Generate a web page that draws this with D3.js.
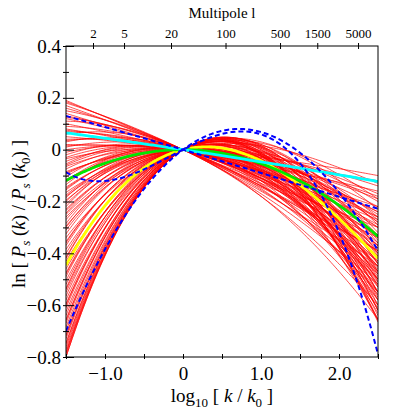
<!DOCTYPE html>
<html>
<head>
<meta charset="utf-8">
<script src="https://cdn.jsdelivr.net/npm/d3@7"></script>
<style>
body{margin:0;background:#fff;}
svg text{font-family:"Liberation Serif",Tinos,"DejaVu Serif","Times New Roman",Times,serif;fill:#000;}
</style>
</head>
<body>
<div id="chart"></div>
<script>
// each curve is kept as its value of ln[Ps(k)/Ps(k0)] at log10(k/k0) = -1.5, 1.0 and 2.5
// (every curve goes through 0 at the pivot k0)
var redLeft=[0.19,0.18,0.17,0.16,0.15,0.14,0.13,0.12,0.11,0.10,0.09,0.08,0.07,0.06,0.05,0.04,0.03,0.02,0.01,0.00,
    -0.01,-0.02,-0.035,-0.045,-0.055,-0.065,-0.075,-0.085,-0.095,-0.105,-0.115,-0.125,-0.135,-0.145,-0.155,-0.165,-0.175,-0.185,-0.195,-0.21,-0.22,-0.235,-0.245,-0.26,-0.27,-0.285,-0.295,-0.31,
    -0.325,-0.34,-0.355,-0.37,-0.385,-0.40,-0.415,-0.43,-0.445,-0.46,-0.475,-0.49,-0.505,-0.52,-0.535,-0.55,-0.565,-0.58,-0.595,-0.61,-0.625,-0.64,-0.655,-0.67,-0.685,-0.70,-0.715,-0.73,-0.745,-0.76,-0.77,-0.78,-0.79,-0.80,-0.80,
    -0.03,-0.06,-0.09,-0.12,-0.15,-0.18,-0.20,-0.23,-0.25,-0.30,
    -0.36,-0.42,-0.48,-0.54,-0.60,-0.66,-0.72,-0.75,-0.785,
    0.185,0.125,0.075,0.035,0.015];
var redMid=[-0.13,-0.16,-0.12,-0.14,-0.17,-0.10,-0.14,-0.11,-0.18,-0.08,-0.14,-0.06,-0.11,-0.18,-0.045,-0.085,-0.15,-0.03,-0.11,-0.065,
    -0.08,-0.12,-0.045,-0.095,-0.135,-0.06,-0.10,-0.025,-0.075,-0.115,-0.04,-0.085,-0.13,-0.055,-0.09,-0.02,-0.065,-0.105,-0.035,-0.075,-0.12,-0.05,-0.085,-0.01,-0.055,-0.095,-0.025,-0.06,
    -0.075,0.015,-0.04,-0.085,-0.005,-0.05,-0.09,-0.01,-0.06,0.025,-0.025,-0.065,0.01,-0.035,-0.07,0.005,-0.04,0.03,-0.005,-0.045,0.02,-0.015,0.01,-0.035,0.0,-0.015,0.02,-0.025,0.005,-0.01,0.015,-0.02,0.0,-0.01,-0.02,
    -0.09,-0.11,-0.05,-0.11,-0.07,-0.04,-0.10,-0.06,-0.03,-0.08,
    -0.06,-0.08,-0.015,-0.025,-0.035,-0.02,0.015,-0.015,0.01,
    -0.145,-0.155,-0.085,-0.12,-0.05];
var redRight=[-0.34,-0.45,-0.30,-0.39,-0.52,-0.27,-0.43,-0.33,-0.60,-0.22,-0.48,-0.16,-0.37,-0.655,-0.12,-0.29,-0.55,-0.10,-0.41,-0.24,
    -0.30,-0.47,-0.18,-0.38,-0.56,-0.26,-0.43,-0.14,-0.34,-0.51,-0.22,-0.40,-0.58,-0.30,-0.45,-0.17,-0.36,-0.53,-0.25,-0.42,-0.61,-0.33,-0.48,-0.20,-0.39,-0.55,-0.28,-0.44,
    -0.50,-0.13,-0.37,-0.58,-0.26,-0.46,-0.63,-0.33,-0.52,-0.19,-0.41,-0.60,-0.29,-0.49,-0.655,-0.36,-0.55,-0.23,-0.44,-0.62,-0.32,-0.53,-0.40,-0.64,-0.48,-0.58,-0.35,-0.655,-0.51,-0.60,-0.44,-0.66,-0.55,-0.62,-0.665,
    -0.33,-0.47,-0.24,-0.50,-0.37,-0.28,-0.52,-0.40,-0.27,-0.50,
    -0.45,-0.56,-0.38,-0.47,-0.57,-0.55,-0.47,-0.62,-0.50,
    -0.39,-0.50,-0.26,-0.45,-0.19];

var lineNames=['yellow','green','cyan','dashA','dashB','dashC'];
var lineLeft=[-0.446,-0.119,0.065,0.13,-0.087,-0.70];
var lineMid=[-0.043,-0.054,-0.047,-0.09,0.059,0.068];
var lineRight=[-0.42,-0.335,-0.123,-0.228,-0.79,-0.39];

var xTicks=[-1.5,-1.0,-0.5,0,0.5,1.0,1.5,2.0,2.5];
var xLabels=[-1,0,1,2];
var yTicks=[-0.8,-0.7,-0.6,-0.5,-0.4,-0.3,-0.2,-0.1,0,0.1,0.2,0.3,0.4];
var yLabels=[-0.8,-0.6,-0.4,-0.2,0,0.2,0.4];
var multipoles=[2,5,20,100,500,1500,5000];
var lPivot=28.5; // multipole that matches k0

var width=407,height=414;
var pLeft=66,pRight=378,pTop=46,pBottom=357;
var serif='"Liberation Serif",Tinos,"DejaVu Serif","Times New Roman",Times,serif';

var svg=d3.select('#chart').append('svg')
    .attr('width',width)
    .attr('height',height);

var x=d3.scaleLinear().domain([-1.5,2.5]).range([pLeft,pRight]);
var y=d3.scaleLinear().domain([-0.8,0.4]).range([pBottom,pTop]);
var xTop=d3.scaleLog().domain([lPivot*Math.pow(10,-1.5),lPivot*Math.pow(10,2.5)]).range([pLeft,pRight]);

svg.append('clipPath').attr('id','plotclip')
    .append('rect')
    .attr('x',pLeft).attr('y',pTop)
    .attr('width',pRight-pLeft).attr('height',pBottom-pTop);

//cubic through the pivot and the three stored values
function curveFn(L,M,R){
    var d=(R-L-4*M)/15;
    var b=(L+1.5*M+1.875*d)/3.75;
    var a=M-b-d;
    return function(t){ return a*t+b*t*t+d*t*t*t; };
}

var xs=d3.range(0,201).map(function(i){ return -1.5+i*0.02; });
var line=d3.line()
    .x(function(p){ return x(p[0]); })
    .y(function(p){ return y(p[1]); });

function pointsFor(L,M,R){
    var f=curveFn(L,M,R);
    return xs.map(function(t){ return [t,f(t)]; });
}

var plot=svg.append('g').attr('clip-path','url(#plotclip)');

plot.selectAll('path.red').data(redLeft).enter()
    .append('path')
    .attr('class','red')
    .attr('d',function(d,i){ return line(pointsFor(redLeft[i],redMid[i],redRight[i])); })
    .style('fill','none')
    .style('stroke','#ff0000')
    .style('stroke-width',0.7);

var lineStyle={
    yellow:{color:'#ffff00',w:2.8,dash:null},
    green:{color:'#00e600',w:2.8,dash:null},
    cyan:{color:'#00ffff',w:2.8,dash:null},
    dashA:{color:'#0000ff',w:2,dash:'5,3'},
    dashB:{color:'#0000ff',w:2,dash:'5,3'},
    dashC:{color:'#0000ff',w:2,dash:'5,3'}
};

plot.selectAll('path.special').data(lineNames).enter()
    .append('path')
    .attr('class','special')
    .attr('d',function(d,i){ return line(pointsFor(lineLeft[i],lineMid[i],lineRight[i])); })
    .style('fill','none')
    .style('stroke',function(d){ return lineStyle[d].color; })
    .style('stroke-width',function(d){ return lineStyle[d].w; })
    .style('stroke-dasharray',function(d){ return lineStyle[d].dash; });

// frame
svg.append('rect')
    .attr('x',pLeft).attr('y',pTop)
    .attr('width',pRight-pLeft).attr('height',pBottom-pTop)
    .style('fill','none')
    .style('stroke','#000')
    .style('stroke-width',1);

var fmt=d3.format('.1f');

// bottom axis
var xAxis=svg.append('g')
    .attr('transform','translate(0,'+pBottom+')')
    .call(d3.axisBottom(x).tickValues(xTicks).tickSize(2).tickPadding(8)
        .tickFormat(function(d){
            if(xLabels.indexOf(d)<0) return '';
            return d==0 ? '0' : fmt(d);
        }));
xAxis.select('.domain').remove();
xAxis.selectAll('line').attr('y1',-3);
xAxis.selectAll('text').style('font-size','19px');

// left axis
var yAxis=svg.append('g')
    .attr('transform','translate('+pLeft+',0)')
    .call(d3.axisLeft(y).tickValues(yTicks).tickSize(3).tickPadding(2)
        .tickFormat(function(d){
            if(yLabels.indexOf(d)<0) return '';
            return Math.abs(d)<1e-9 ? '0' : fmt(d);
        }));
yAxis.select('.domain').remove();
yAxis.selectAll('line').attr('x1',function(d){ return yLabels.indexOf(d)<0 ? 3 : 8; });
yAxis.selectAll('text').style('font-size','19px');

// top axis: multipole
var topAxis=svg.append('g')
    .attr('transform','translate(0,'+pTop+')')
    .call(d3.axisTop(xTop).tickValues(multipoles).tickSize(3).tickPadding(5)
        .tickFormat(d3.format('d')));
topAxis.select('.domain').remove();
topAxis.selectAll('line').attr('y1',3);
topAxis.selectAll('text').style('font-size','13px');

svg.selectAll('.tick line').style('stroke','#000');
svg.selectAll('g').attr('font-family',serif);

svg.append('text')
    .attr('x',(pLeft+pRight)/2)
    .attr('y',18)
    .attr('text-anchor','middle')
    .style('font-size','15px')
    .text('Multipole l');

function richText(sel,parts){
    parts.forEach(function(p){
        var t=sel.append('tspan').text(p.t);
        if(p.i) t.style('font-style','italic');
        if(p.sub) t.style('font-size','13px');
        if(p.dy) t.attr('dy',p.dy);
    });
}

var xTitle=svg.append('text')
    .attr('x',(pLeft+pRight)/2)
    .attr('y',402)
    .attr('text-anchor','middle')
    .style('font-size','19px');
richText(xTitle,[
    {t:'log'},{t:'10',sub:1,dy:5},{t:' [ ',dy:-5},
    {t:'k',i:1},{t:'  / '},{t:'k',i:1},{t:'0',sub:1,dy:5},{t:' ]',dy:-5}
]);

var yTitle=svg.append('text')
    .attr('transform','translate(25,214) rotate(-90)')
    .attr('text-anchor','middle')
    .style('font-size','19px');
richText(yTitle,[
    {t:'ln [ '},{t:'P',i:1},{t:'s',i:1,sub:1,dy:5},{t:' (',dy:-5},{t:'k',i:1},{t:') / '},
    {t:'P',i:1},{t:'s',i:1,sub:1,dy:5},{t:' (',dy:-5},{t:'k',i:1},{t:'0',sub:1,dy:5},{t:') ]',dy:-5}
]);
svg.selectAll('text').style('font-family',serif);
</script>
</body>
</html>
